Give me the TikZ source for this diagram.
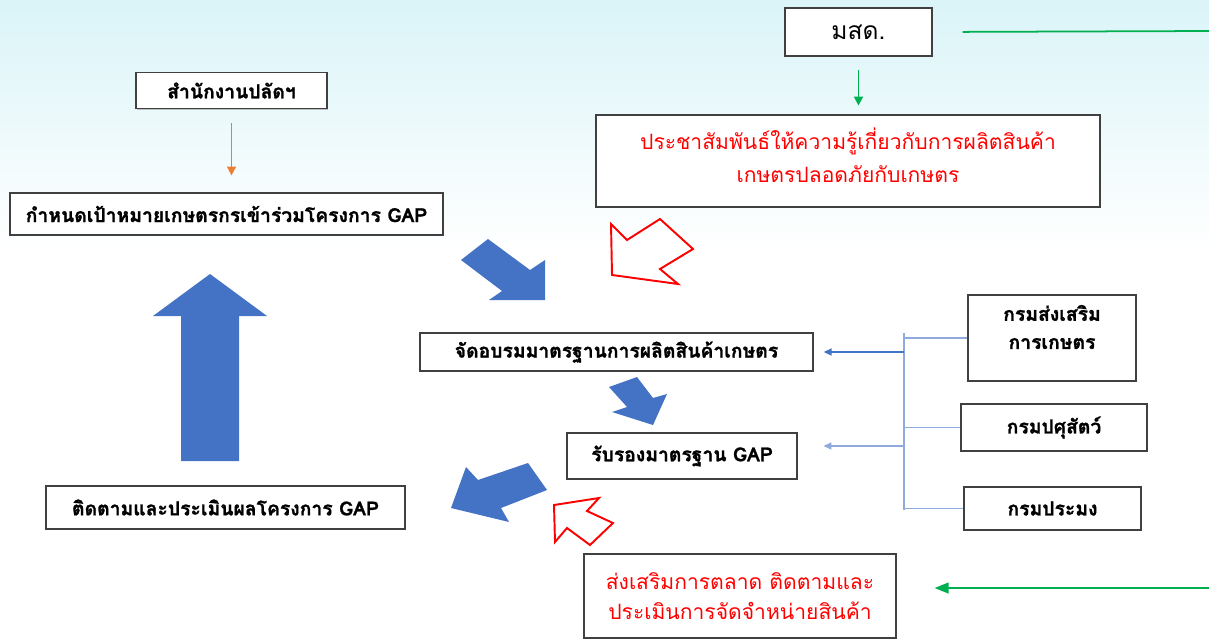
\documentclass[tikz,border=0pt]{standalone}
\usepackage{fontspec}
\newfontfamily\thaifont[Script=Thai, BoldFeatures={FakeBold=1.2}]{Loma}
\usetikzlibrary{arrows.meta,shadows}
\definecolor{arrowblue}{RGB}{68,114,196}
\definecolor{lineblue}{RGB}{143,170,220}
\definecolor{gapgreen}{RGB}{0,176,80}
\definecolor{gaporange}{RGB}{237,125,49}
\definecolor{bgcyan}{RGB}{218,244,248}
\definecolor{boxline}{RGB}{64,64,64}
\begin{document}
\begin{tikzpicture}[
    x=0.02cm, y=-0.02cm,
    font=\thaifont,
    >={Triangle[length=5pt,width=5pt]},
    box/.style={rectangle, draw=boxline, line width=0.8pt, fill=white,
        drop shadow={shadow xshift=0.7pt, shadow yshift=-0.7pt, fill=black!35, opacity=0.7}},
    boldtxt/.style={font=\thaifont\bfseries\fontsize{11}{14}\selectfont},
    redtxt/.style={text=red, align=center, font=\thaifont\fontsize{12}{19}\selectfont},
    blk/.style={fill=arrowblue, draw=none},
    hollow/.style={draw=red, line width=1.1pt, line join=miter, fill=white},
    busline/.style={draw=lineblue, line width=0.6pt}
]
    \useasboundingbox (0,0) rectangle (1209,643);
    \shade[top color=bgcyan, bottom color=white] (0,0) rectangle (1209,250);

    % left column
    \node[box, boldtxt, minimum width=3.82cm, minimum height=0.72cm] (sec) at (231.5,90.5) {สำนักงานปลัดฯ};
    \node[box, boldtxt, minimum width=8.66cm, minimum height=0.84cm] (goal) at (226.5,214) {กำหนดเป้าหมายเกษตรกรเข้าร่วมโครงการ GAP};
    \node[box, boldtxt, minimum width=7.18cm, minimum height=0.86cm] (track) at (225.5,507.5) {ติดตามและประเมินผลโครงการ GAP};

    % middle
    \node[box, font=\thaifont\fontsize{14}{16}\selectfont, minimum width=2.94cm, minimum height=0.96cm] (msd) at (858.5,32) {มสด.};
    \node[box, minimum width=10.08cm, minimum height=1.84cm] (pr) at (848,161) {};
    \node[redtxt] (prtext) at (848,155) {ประชาสัมพันธ์ให้ความรู้เกี่ยวกับการผลิตสินค้า\\เกษตรปลอดภัยกับเกษตร};
    \node[box, boldtxt, minimum width=7.86cm, minimum height=0.76cm] (train) at (616.5,352) {จัดอบรมมาตรฐานการผลิตสินค้าเกษตร};
    \node[box, boldtxt, minimum width=4.6cm, minimum height=0.92cm] (cert) at (682,456) {รับรองมาตรฐาน GAP};
    \node[box, redtxt, minimum width=6.24cm, minimum height=1.68cm] (mkt) at (740,596) {ส่งเสริมการตลาด ติดตามและ\\[-2pt]ประเมินการจัดจำหน่ายสินค้า};

    % departments
    \node[box, minimum width=3.36cm, minimum height=1.72cm] (ext) at (1052,338) {};
    \node[boldtxt, align=center] (exttext) at (1052,327) {กรมส่งเสริม\\[2pt]การเกษตร};
    \node[box, boldtxt, minimum width=3.72cm, minimum height=0.94cm] (live) at (1054,427.5) {กรมปศุสัตว์};
    \node[box, boldtxt, minimum width=3.54cm, minimum height=0.86cm] (fish) at (1052.5,508.5) {กรมประมง};

    % thin connectors
    \draw[->, gaporange, line width=0.8pt, shorten <=8pt, shorten >=9.6pt] (sec.south) -- (sec.south |- goal.north);
    \draw[->, gapgreen, line width=1.1pt, shorten <=7.4pt, shorten >=5pt] (msd.south) -- (msd.south |- pr.north);
    \coordinate (gtop) at (1209,31);
    \draw[gapgreen, line width=1pt, shorten <=17pt] (msd.east) -- (gtop);
    \coordinate (gbot) at (1209,588);
    \draw[-{Triangle[length=8pt,width=6pt]}, gapgreen, line width=1.3pt, shorten >=21.5pt] (gbot) -- (gbot -| mkt.east);

    \coordinate (bustop) at (904,333);
    \coordinate (busbot) at (904,510);
    \draw[busline] (bustop) -- (busbot);
    \draw[busline] (ext.west) -- (ext.west -| bustop);
    \draw[busline] (live.west) -- (live.west -| bustop);
    \draw[busline] (fish.west) -- (fish.west -| bustop);
    \draw[-{Triangle[length=4.5pt,width=4pt]}, arrowblue, line width=0.8pt, shorten >=5.7pt] (train.east -| bustop) -- (train.east);
    \coordinate (certin) at ([yshift=5.7pt]cert.east);
    \draw[-{Triangle[length=4.5pt,width=4pt]}, lineblue, line width=0.8pt, shorten >=14.7pt] (certin -| bustop) -- (certin);

    % block arrows
    \fill[blk] (181,461) -- (181,316) -- (153,316) -- (210,274) -- (267,316) -- (239,316) -- (239,461) -- cycle;
    \fill[blk] (461,260) -- (488,239) -- (530,270) -- (545,260) -- (545,300) -- (489,300) -- (502,291) -- cycle;
    \fill[blk] (609,387) -- (637,377) -- (653,398) -- (667,394) -- (653,425) -- (612,412) -- (627,407) -- cycle;
    \fill[blk] (528,463) -- (547,490) -- (501,508) -- (509,522) -- (451,508) -- (466,467) -- (478,480) -- cycle;
    \draw[hollow] (611,224) -- (627,240) -- (660,219) -- (693,249) -- (660,269) -- (678,284) -- (612,275) -- cycle;
    \draw[hollow] (554,505) -- (599,498) -- (587,511) -- (613,523) -- (590,545) -- (567,528) -- (555,542) -- cycle;
\end{tikzpicture}
\end{document}
